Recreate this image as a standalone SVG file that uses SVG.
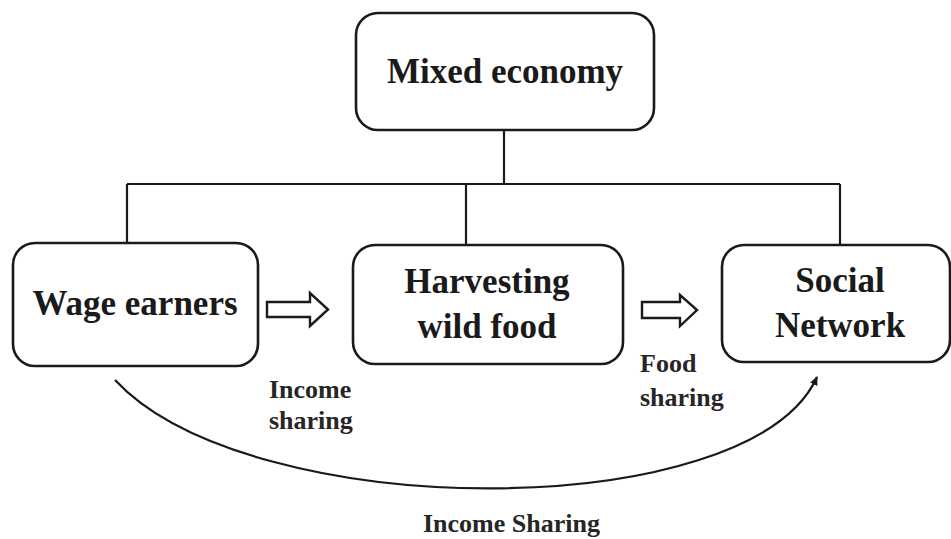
<svg xmlns="http://www.w3.org/2000/svg" width="951" height="539" viewBox="0 0 951 539">
<style>
.box{fill:#fff;stroke:#1a1a1a;stroke-width:2.6}
.ln{fill:none;stroke:#1a1a1a;stroke-width:2.2}
.t{font-family:"Liberation Serif",serif;font-weight:bold;font-size:35px;fill:#1a1a1a;text-anchor:middle}
.lb{font-family:"Liberation Serif",serif;font-weight:bold;font-size:26px;fill:#262626;text-anchor:start}
.blk{fill:#fff;stroke:#1a1a1a;stroke-width:2.4;stroke-linejoin:miter}
</style>
<defs>
<marker id="ah" markerWidth="10" markerHeight="10" refX="8" refY="5" orient="auto" markerUnits="userSpaceOnUse">
<path d="M0,1 L9,5 L0,9 Z" fill="#1a1a1a"/>
</marker>
</defs>
<g id="connectors">
<path class="ln" d="M504,130 V184 M127,184 H840 M127,184 V244 M466,184 V246 M840,184 V246"/>
<path class="blk" d="M267,302 H310 V293 L328,309.5 L310,326 V317 H267 Z"/>
<path class="blk" d="M642,302 H680 V295 L697,310 L680,326 V318 H642 Z"/>
<path class="ln" d="M115,380 C250,525 750,525 817,377" marker-end="url(#ah)"/>
</g>
<g id="mixed-economy">
<rect class="box" x="356" y="13" width="298" height="117" rx="22"/>
<text class="t" x="505" y="83">Mixed economy</text>
</g>
<g id="wage-earners">
<rect class="box" x="13" y="243" width="245" height="123" rx="22"/>
<text class="t" x="135" y="315">Wage earners</text>
</g>
<g id="harvesting">
<rect class="box" x="353" y="245" width="270" height="119" rx="22"/>
<text class="t" x="487" y="293">Harvesting</text>
<text class="t" x="487" y="338">wild food</text>
</g>
<g id="social-network">
<rect class="box" x="722" y="245" width="228" height="117" rx="22"/>
<text class="t" x="840" y="292">Social</text>
<text class="t" x="840" y="337">Network</text>
</g>
<g id="labels">
<text class="lb" x="269" y="398">Income</text>
<text class="lb" x="269" y="429">sharing</text>
<text class="lb" x="640" y="372">Food</text>
<text class="lb" x="640" y="406">sharing</text>
<text class="lb" x="423" y="532">Income Sharing</text>
</g>
</svg>
